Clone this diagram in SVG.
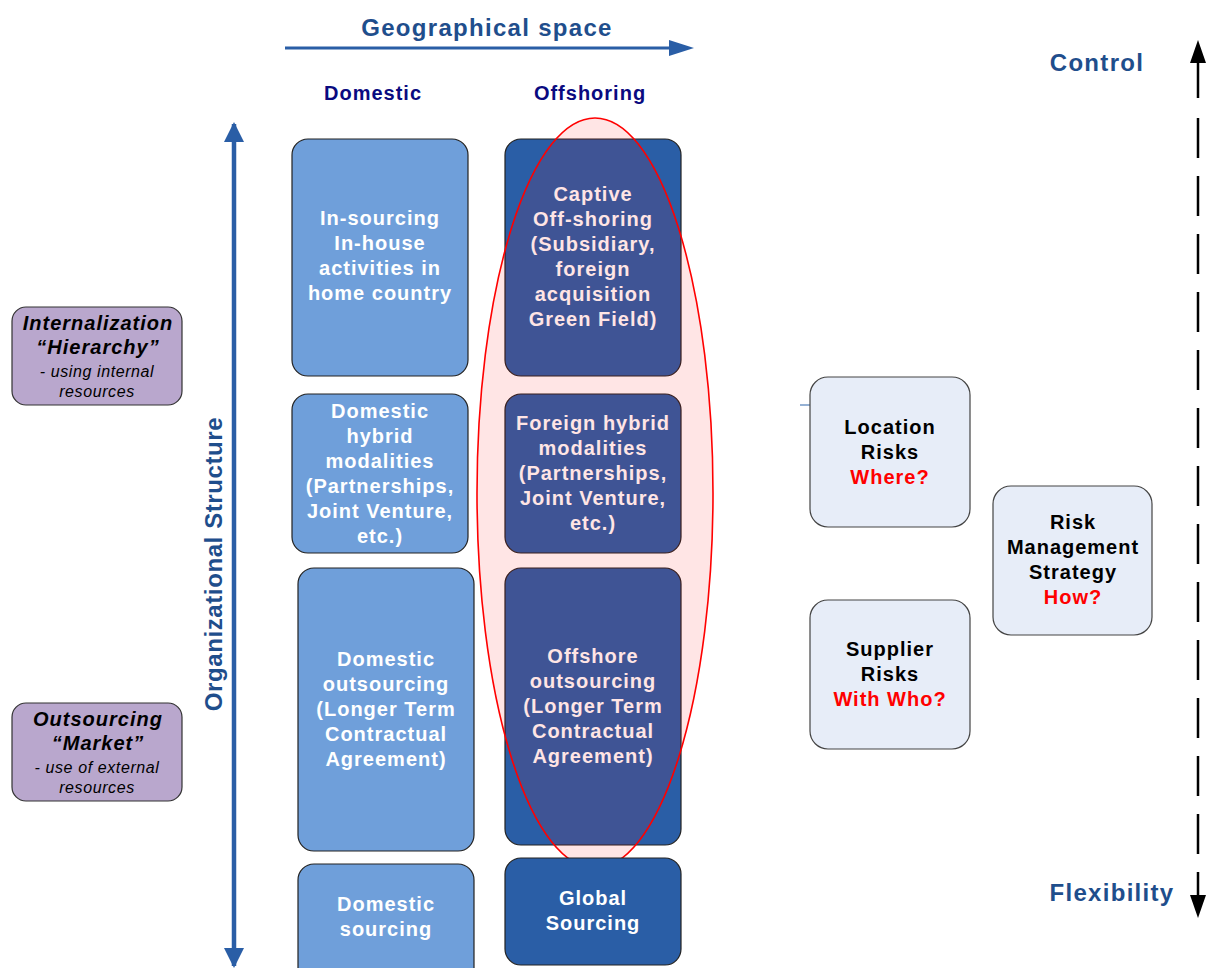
<svg xmlns="http://www.w3.org/2000/svg" width="1211" height="968" viewBox="0 0 1211 968">
<defs>
<style>
text{font-family:"Liberation Sans",Arial,sans-serif;font-weight:bold;text-anchor:middle}
.bt{font-size:20px;letter-spacing:1px;fill:#ffffff}
.lt{fill:#6F9FDA;stroke:#222;stroke-width:1.2}
.dk{fill:#2A5EA6;stroke:#222;stroke-width:1.2}
.pu{fill:#B9A7CD;stroke:#333;stroke-width:1.2}
.rk{fill:#E7EDF8;stroke:#444;stroke-width:1.2}
.rt{font-size:20px;letter-spacing:1px;fill:#000}
.red{fill:#FF0000}
.hd{font-size:24px;letter-spacing:1.3px;fill:#1F4E8C}
.col{font-size:20px;letter-spacing:1px;fill:#0A0A80}
.pb{font-size:20px;letter-spacing:1px}
.ps{font-size:16px;letter-spacing:0.6px;font-weight:normal}
</style>
<marker id="bh" viewBox="0 0 10 10" refX="9" refY="5" markerWidth="4.5" markerHeight="4.5" orient="auto-start-reverse"><path d="M0,0L10,5L0,10z" fill="#2A5EA6"/></marker>
</defs>
<g id="connectors">
<line x1="285" y1="48" x2="672" y2="48" stroke="#2A5EA6" stroke-width="3"/>
<polygon points="669,40 694,48 669,56" fill="#2A5EA6"/>
<line x1="234" y1="124" x2="234" y2="966" stroke="#2A5EA6" stroke-width="4.5" marker-start="url(#bh)" marker-end="url(#bh)"/>
<line x1="1198" y1="60" x2="1198" y2="898" stroke="#000" stroke-width="2.5" stroke-dasharray="38 20 40 18 40 18 40 18 40 18 40 18 40 18 40 18 40 18 40 18 40 18 40 18 40 18 40 18 40 18 40 18"/>
<polygon points="1198,40 1206,63 1190,63" fill="#000"/>
<polygon points="1198,918 1206,895 1190,895" fill="#000"/>
<line x1="800" y1="405" x2="810" y2="405" stroke="#4F7DB8" stroke-width="1.2"/>
</g>
<g id="headers">
<text x="487" y="36" class="hd">Geographical space</text>
<text x="373" y="100" class="col">Domestic</text>
<text x="590" y="100" class="col">Offshoring</text>
<text x="1097" y="71" class="hd">Control</text>
<text x="1112" y="901" class="hd">Flexibility</text>
<text x="0" y="0" transform="translate(222,564) rotate(-90)" class="hd" style="letter-spacing:0.6px">Organizational Structure</text>
</g>
<g id="insourcing">
<rect x="292" y="139" width="176" height="237" rx="16" class="lt"/>
<text class="bt"><tspan x="380" y="225">In-sourcing</tspan><tspan x="380" y="250">In-house</tspan><tspan x="380" y="275">activities in</tspan><tspan x="380" y="300">home country</tspan></text>
</g>
<g id="domestic-hybrid">
<rect x="292" y="394" width="176" height="159" rx="16" class="lt"/>
<text class="bt"><tspan x="380" y="418">Domestic</tspan><tspan x="380" y="443">hybrid</tspan><tspan x="380" y="468">modalities</tspan><tspan x="380" y="493">(Partnerships,</tspan><tspan x="380" y="518">Joint Venture,</tspan><tspan x="380" y="543">etc.)</tspan></text>
</g>
<g id="domestic-outsourcing">
<rect x="298" y="568" width="176" height="283" rx="16" class="lt"/>
<text class="bt"><tspan x="386" y="666">Domestic</tspan><tspan x="386" y="691">outsourcing</tspan><tspan x="386" y="716">(Longer Term</tspan><tspan x="386" y="741">Contractual</tspan><tspan x="386" y="766">Agreement)</tspan></text>
</g>
<g id="domestic-sourcing">
<rect x="298" y="864" width="176" height="120" rx="16" class="lt"/>
<text class="bt"><tspan x="386" y="911">Domestic</tspan><tspan x="386" y="936">sourcing</tspan></text>
</g>
<g id="captive">
<rect x="505" y="139" width="176" height="237" rx="16" class="dk"/>
<text class="bt"><tspan x="593" y="201">Captive</tspan><tspan x="593" y="226">Off-shoring</tspan><tspan x="593" y="251">(Subsidiary,</tspan><tspan x="593" y="276">foreign</tspan><tspan x="593" y="301">acquisition</tspan><tspan x="593" y="326">Green Field)</tspan></text>
</g>
<g id="foreign-hybrid">
<rect x="505" y="394" width="176" height="159" rx="16" class="dk"/>
<text class="bt"><tspan x="593" y="430">Foreign hybrid</tspan><tspan x="593" y="455">modalities</tspan><tspan x="593" y="480">(Partnerships,</tspan><tspan x="593" y="505">Joint Venture,</tspan><tspan x="593" y="530">etc.)</tspan></text>
</g>
<g id="offshore-outsourcing">
<rect x="505" y="568" width="176" height="277" rx="16" class="dk"/>
<text class="bt"><tspan x="593" y="663">Offshore</tspan><tspan x="593" y="688">outsourcing</tspan><tspan x="593" y="713">(Longer Term</tspan><tspan x="593" y="738">Contractual</tspan><tspan x="593" y="763">Agreement)</tspan></text>
</g>
<g id="offshore-ellipse">
<ellipse cx="595" cy="493" rx="118" ry="375" fill="#FF0000" fill-opacity="0.1" stroke="#FF0000" stroke-width="1.6"/>
</g>
<g id="global-sourcing">
<rect x="505" y="858" width="176" height="107" rx="16" class="dk"/>
<text class="bt"><tspan x="593" y="905">Global</tspan><tspan x="593" y="930">Sourcing</tspan></text>
</g>
<g id="internalization">
<rect x="12" y="307" width="170" height="98" rx="14" class="pu"/>
<text font-style="italic" fill="#000"><tspan x="98" y="330" class="pb">Internalization</tspan><tspan x="98" y="354" class="pb">“Hierarchy”</tspan><tspan x="97" y="377" class="ps">- using internal</tspan><tspan x="97" y="397" class="ps">resources</tspan></text>
</g>
<g id="outsourcing">
<rect x="12" y="703" width="170" height="98" rx="14" class="pu"/>
<text font-style="italic" fill="#000"><tspan x="98" y="726" class="pb">Outsourcing</tspan><tspan x="98" y="750" class="pb">“Market”</tspan><tspan x="97" y="773" class="ps">- use of external</tspan><tspan x="97" y="793" class="ps">resources</tspan></text>
</g>
<g id="location-risks">
<rect x="810" y="377" width="160" height="150" rx="18" class="rk"/>
<text class="rt"><tspan x="890" y="434">Location</tspan><tspan x="890" y="459">Risks</tspan><tspan x="890" y="484" class="red">Where?</tspan></text>
</g>
<g id="supplier-risks">
<rect x="810" y="600" width="160" height="149" rx="18" class="rk"/>
<text class="rt"><tspan x="890" y="656">Supplier</tspan><tspan x="890" y="681">Risks</tspan><tspan x="890" y="706" class="red">With Who?</tspan></text>
</g>
<g id="risk-management">
<rect x="993" y="486" width="159" height="149" rx="18" class="rk"/>
<text class="rt"><tspan x="1073" y="529">Risk</tspan><tspan x="1073" y="554">Management</tspan><tspan x="1073" y="579">Strategy</tspan><tspan x="1073" y="604" class="red">How?</tspan></text>
</g>
</svg>
